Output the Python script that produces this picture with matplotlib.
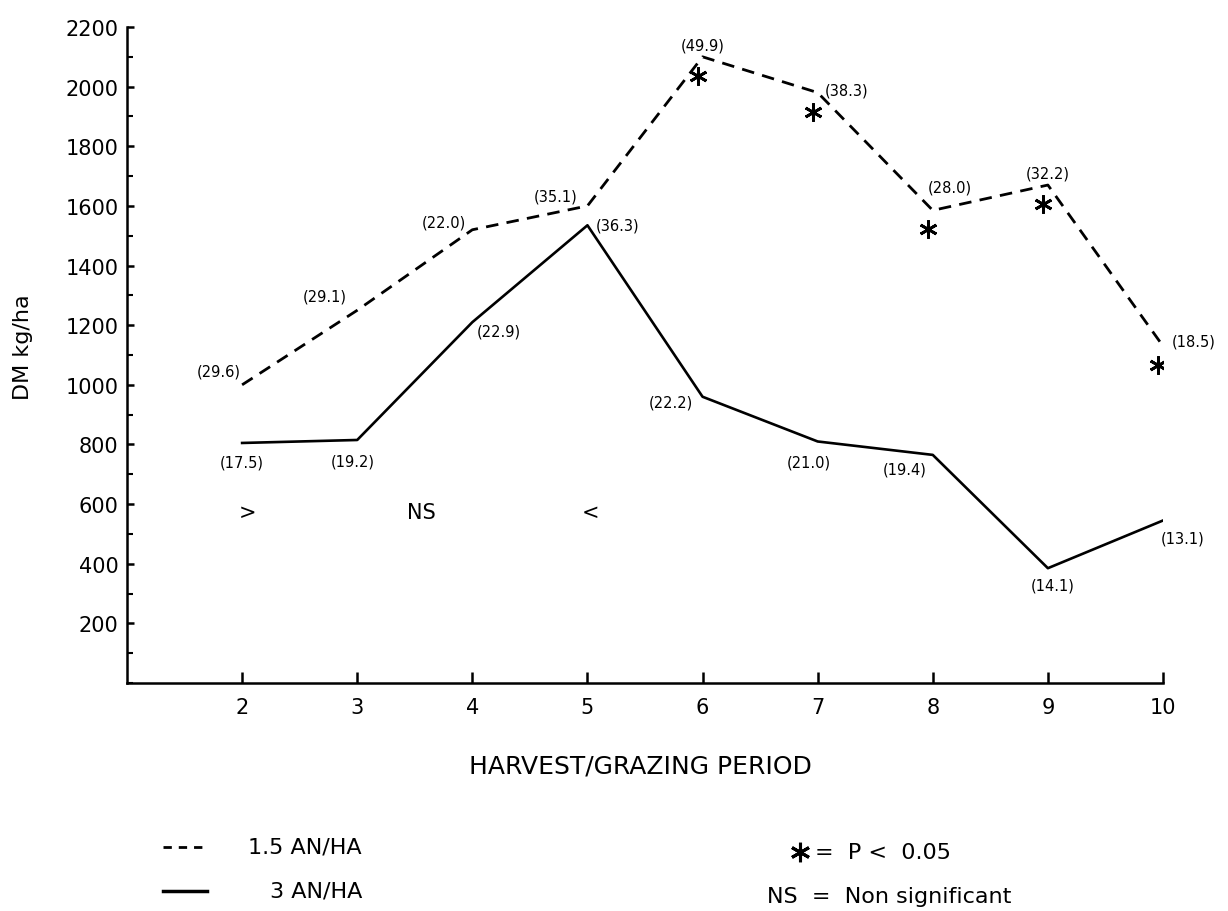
import matplotlib.pyplot as plt
import matplotlib.transforms as mtransforms
from matplotlib.lines import Line2D
from matplotlib.ticker import MultipleLocator

plt.rcParams['font.family'] = ['DejaVu Sans']

# dry matter yield per harvest/grazing period, two stocking rates
periods = [2, 3, 4, 5, 6, 7, 8, 9, 10]
dm_15 = [1000, 1250, 1520, 1600, 2100, 1980, 1585, 1670, 1130]   # 1.5 AN/HA
dm_3 = [805, 815, 1210, 1535, 960, 810, 765, 385, 545]           # 3 AN/HA
pct_15 = [29.6, 29.1, 22.0, 35.1, 49.9, 38.3, 28.0, 32.2, 18.5]
pct_3 = [17.5, 19.2, 22.9, 36.3, 22.2, 21.0, 19.4, 14.1, 13.1]
signif = [False, False, False, False, True, True, True, True, True]

# where the bracketed numbers sit relative to their point (pixels)
off_15 = [(-23, 14), (-32, 14), (-28, 8), (-32, 10), (0, 12),
          (29, 3), (17, 23), (0, 12), (31, 5)]
off_3 = [(0, -19), (-4, -21), (26, -9), (30, 0), (-32, -5),
         (-9, -21), (-28, -14), (5, -17), (20, -18)]

fig = plt.figure(figsize=(12.28, 9.12), dpi=100)
ax = fig.add_axes([127 / 1228, 1 - 684 / 912, 1036 / 1228, 656 / 912])

ax.plot(periods, dm_15, color='black', lw=2, ls=(0, (4.5, 3)))
ax.plot(periods, dm_3, color='black', lw=1.9)

for x, y, p, (dx, dy) in zip(periods, dm_15, pct_15, off_15):
    ax.annotate(f'({p:.1f})', (x, y), xytext=(dx, dy), textcoords='offset pixels',
                ha='center', va='center', fontsize=10.5)
for x, y, p, (dx, dy) in zip(periods, dm_3, pct_3, off_3):
    ax.annotate(f'({p:.1f})', (x, y), xytext=(dx, dy), textcoords='offset pixels',
                ha='center', va='center', fontsize=10.5)

# significance stars just under the dashed line
star_tr = mtransforms.offset_copy(ax.transData, fig=fig, x=-5, y=-19, units='dots')
sx = [x for x, s in zip(periods, signif) if s]
sy = [y for y, s in zip(dm_15, signif) if s]
ax.plot(sx, sy, ls='none', marker=(6, 2, 0), ms=13, mew=2, color='black',
        transform=star_tr)

ax.text(2.05, 575, '>', ha='center', va='center', fontsize=15)
ax.text(3.56, 575, 'NS', ha='center', va='center', fontsize=15)
ax.text(5.03, 575, '<', ha='center', va='center', fontsize=15)

ax.set_xlim(1, 10)
ax.set_ylim(0, 2200)
ax.set_xticks(periods)
ax.set_yticks(range(200, 2201, 200))
ax.yaxis.set_minor_locator(MultipleLocator(100))
for side in ['top', 'right']:
    ax.spines[side].set_visible(False)
for side in ['left', 'bottom']:
    ax.spines[side].set_linewidth(1.8)
ax.tick_params(axis='y', which='major', direction='in', length=5, width=1.8,
               labelsize=15, pad=6)
ax.tick_params(axis='y', which='minor', direction='in', length=4, width=1.5)
ax.tick_params(axis='x', direction='in', length=8, width=1.8, labelsize=15, pad=10)

fig.text(23 / 1228, 1 - 347 / 912, 'DM kg/ha', rotation=90, ha='center',
         va='center', fontsize=16)
fig.text(640 / 1228, 1 - 767 / 912, 'HARVEST/GRAZING PERIOD', ha='center',
         va='center', fontsize=18)

# key
fig.add_artist(Line2D([163 / 1228, 207 / 1228], [1 - 848 / 912] * 2,
                      ls=(0, (3, 2.5)), lw=2, color='black'))
fig.add_artist(Line2D([163 / 1228, 207 / 1228], [1 - 892 / 912] * 2,
                      lw=2.5, color='black'))
fig.text(362 / 1228, 1 - 848 / 912, '1.5 AN/HA', ha='right', va='center', fontsize=16)
fig.text(362 / 1228, 1 - 892 / 912, '3 AN/HA', ha='right', va='center', fontsize=16)
fig.add_artist(Line2D([800 / 1228], [1 - 853 / 912], marker=(6, 2, 0), ms=14,
                      mew=2.2, color='black', ls='none'))
fig.text(815 / 1228, 1 - 853 / 912, '=  P <  0.05', ha='left', va='center', fontsize=16)
fig.text(767 / 1228, 1 - 897 / 912, 'NS  =  Non significant', ha='left',
         va='center', fontsize=16)

fig.savefig('out.png', dpi=100)
